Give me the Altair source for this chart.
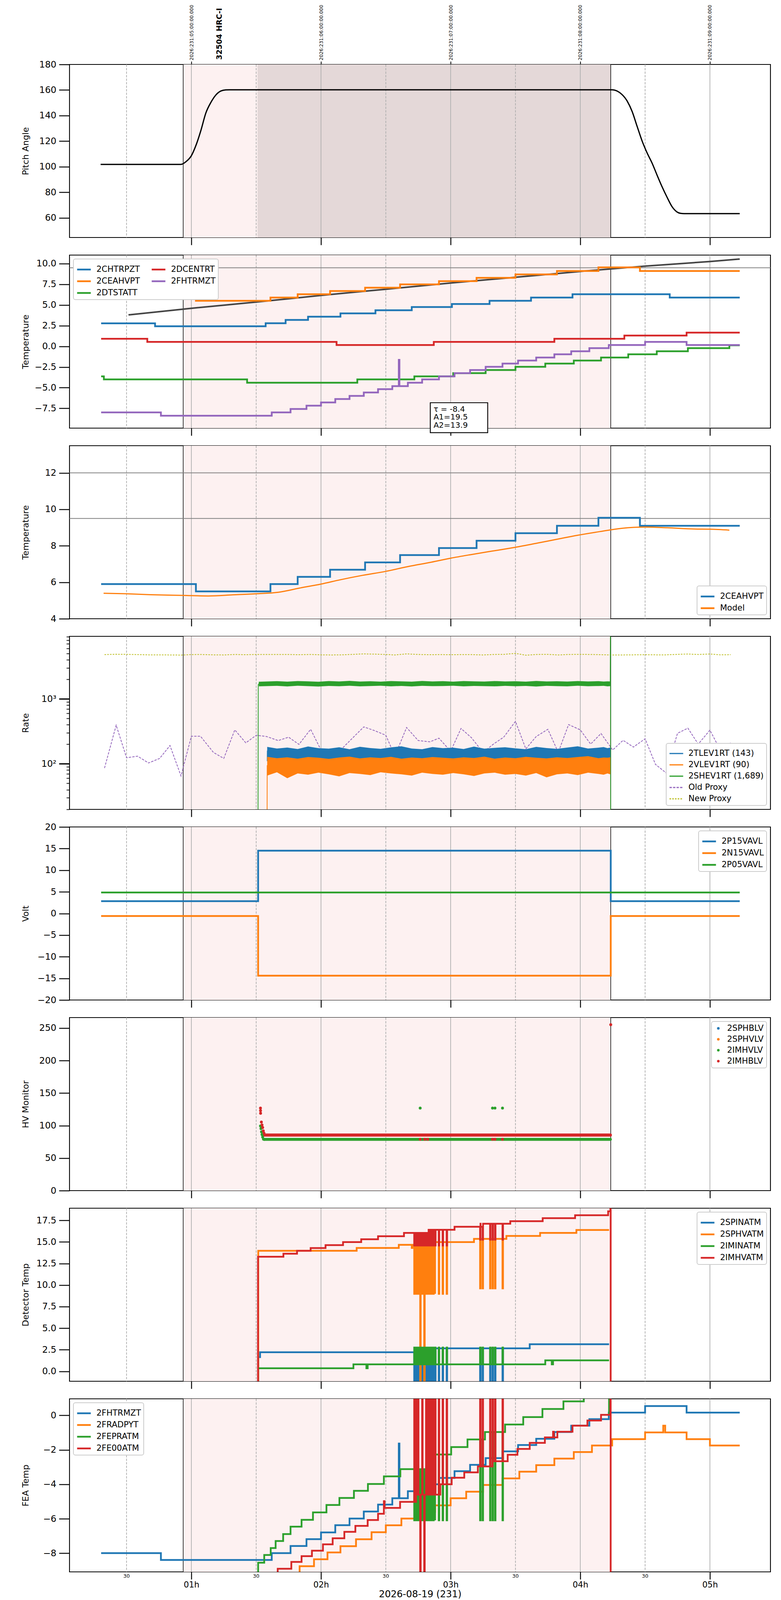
import altair as alt
import pandas as pd

# The screenshot is only ~4096 px tall, so the reference layout is kept horizontally
# and compressed vertically to fit.
WIDTH = 1795
HEIGHT = 443
SPACING = 45
X_DOMAIN = [0.060, 5.467]
FONT = "DejaVu Sans"

BLUE, ORANGE, GREEN, RED, PURPLE, OLIVE = (
    "#1f77b4", "#ff7f0e", "#2ca02c", "#d62728", "#9467bd", "#bcbd22")

# time axis (hours of 2026-08-19)
HOURS = [1, 2, 3, 4, 5]
HALF_HOURS = [0.5, 1.5, 2.5, 3.5, 4.5]
OBS_START, OBS_STOP = 0.937, 4.235
HV_ON = 1.51
OBSID_LABEL = "32504 HRC-I"
OBSID_T = 1.216

# panel 1: pitch
PITCH_T = [0.30, 0.919, 0.958, 1.0, 1.035, 1.073, 1.112, 1.15, 1.188, 1.227, 1.265, 1.296,
           4.246, 4.304, 4.362, 4.40, 4.438, 4.477, 4.515, 4.554, 4.592, 4.631, 4.669, 4.708,
           4.746, 4.773, 4.80, 5.23]
PITCH_V = [101.8, 101.8, 103.9, 108.6, 116.6, 128.2, 142.1, 150.2, 156, 159.2, 160.1, 160.2,
           160.2, 158, 151.3, 143.2, 131.7, 120.1, 110.9, 102.8, 93.5, 84.3, 76.2, 68.7,
           64.6, 63.5, 63.3, 63.3]

# panel 2: temperatures (step changes)
CHTRPZT_T = [0.304, 0.72, 1.573, 1.727, 1.90, 2.15, 2.42, 2.70, 3.01, 3.30, 3.62, 3.94, 4.69, 5.23]
CHTRPZT_V = [2.78, 2.42, 2.79, 3.19, 3.58, 3.98, 4.36, 4.75, 5.12, 5.50, 5.90, 6.30, 5.90, 5.90]
CEAHVPT_T = [0.304, 1.035, 1.61, 1.82, 2.07, 2.34, 2.61, 2.91, 3.20, 3.50, 3.82, 4.14, 4.46, 5.23]
CEAHVPT_V = [5.90, 5.50, 5.90, 6.30, 6.69, 7.09, 7.49, 7.88, 8.28, 8.69, 9.10, 9.54, 9.10, 9.10]
DTSTATT_T = [0.304, 0.325, 1.43, 2.28, 2.72, 3.02, 3.27, 3.50, 3.73, 3.95, 4.16, 4.37, 4.59,
             4.83, 5.15, 5.23]
DTSTATT_V = [-3.63, -4.0, -4.4, -4.0, -3.63, -3.24, -2.87, -2.48, -2.09, -1.72, -1.36, -0.97,
             -0.6, -0.22, 0.12, 0.12]
DCENTRT_T = [0.304, 0.66, 2.12, 2.87, 3.80, 4.34, 4.82, 5.23]
DCENTRT_V = [0.91, 0.54, 0.16, 0.54, 0.91, 1.30, 1.66, 1.66]
FHTRMZT_T = [0.304, 0.765, 1.62, 1.765, 1.888, 2.0, 2.11, 2.22, 2.33, 2.44, 2.55, 2.60, 2.605,
             2.67, 2.78, 2.91, 3.03, 3.15, 3.27, 3.40, 3.52, 3.66, 3.80, 3.93, 4.07, 4.22, 4.50,
             4.82, 5.23]
FHTRMZT_V = [-7.99, -8.39, -7.99, -7.58, -7.18, -6.79, -6.37, -5.99, -5.58, -5.18, -4.81, -1.64,
             -4.81, -4.40, -4.00, -3.63, -3.24, -2.87, -2.48, -2.09, -1.72, -1.36, -0.97, -0.60,
             -0.22, 0.16, 0.54, 0.16, 0.16]
FIT_T = [0.515, 1.0, 1.5, 2.0, 2.5, 3.0, 3.5, 4.0, 4.5, 5.0, 5.23]
FIT_V = [3.8, 4.6, 5.35, 6.15, 6.9, 7.65, 8.35, 9.05, 9.7, 10.25, 10.55]
FIT_TEXT = ["τ = -8.4", "A1=19.5", "A2=13.9"]
FIT_TEXT_Y = [-7.61, -8.57, -9.54]
FIT_BOX = [2.843, 3.286, -6.82, -10.44]

# panel 3: model
MODEL_T = [0.323, 0.496, 0.688, 0.94, 1.13, 1.32, 1.50, 1.67, 1.84, 2.0, 2.15, 2.32, 2.50,
           2.67, 2.85, 3.0, 3.15, 3.32, 3.50, 3.67, 3.82, 3.98, 4.15, 4.32, 4.50, 4.67, 4.88,
           5.0, 5.15]
MODEL_V = [5.40, 5.37, 5.32, 5.28, 5.25, 5.31, 5.37, 5.45, 5.69, 5.90, 6.14, 6.38, 6.60,
           6.86, 7.10, 7.32, 7.51, 7.71, 7.92, 8.15, 8.36, 8.58, 8.78, 8.96, 9.03, 8.99, 8.92,
           8.91, 8.86]

# panel 4: rates
PROXY_T = [0.33, 0.42, 0.50, 0.585, 0.67, 0.755, 0.835, 0.92, 1.00, 1.07, 1.17, 1.25, 1.335,
           1.42, 1.50, 1.58, 1.67, 1.75, 1.83, 1.92, 2.00, 2.08, 2.16, 2.25, 2.33, 2.41, 2.50,
           2.57, 2.66, 2.75, 2.84, 2.91, 3.00, 3.08, 3.16, 3.25, 3.33, 3.41, 3.50, 3.58, 3.66,
           3.75, 3.83, 3.91, 4.00, 4.08, 4.16, 4.25, 4.33, 4.41, 4.50, 4.58, 4.66, 4.75, 4.83,
           4.91, 5.00, 5.08, 5.16]
OLD_PROXY = [86, 393, 124, 131, 103, 121, 191, 65, 266, 266, 150, 121, 333, 210, 275, 263, 228,
             257, 199, 340, 163, 132, 170, 257, 370, 326, 275, 132, 362, 228, 218, 248, 156, 350,
             253, 150, 201, 258, 450, 170, 263, 340, 150, 402, 333, 201, 293, 163, 230, 181, 243,
             98, 73, 295, 354, 201, 330, 163, 210]
NEW_PROXY = [4795, 4855, 4835, 4795, 4754, 4754, 4735, 4715, 4795, 4815, 4754, 4735, 4815, 4775,
             4815, 4815, 4815, 4815, 4775, 4815, 4754, 4735, 4754, 4835, 4917, 4876, 4815, 4735,
             4917, 4815, 4775, 4795, 4775, 4795, 4795, 4735, 4815, 4835, 5000, 4695, 4815, 4835,
             4735, 4815, 4835, 4815, 4775, 4735, 4735, 4754, 4775, 4754, 4754, 4835, 4897, 4815,
             4897, 4754, 4775]
T_NOISE = [1.585, 1.66, 1.74, 1.82, 1.90, 1.98, 2.06, 2.14, 2.22, 2.30, 2.38, 2.46, 2.54, 2.62,
           2.70, 2.78, 2.86, 2.94, 3.02, 3.10, 3.18, 3.26, 3.34, 3.42, 3.50, 3.58, 3.66, 3.74,
           3.82, 3.90, 3.98, 4.06, 4.14, 4.18, 4.21, 4.232]
T_NOISE_GREEN = [1.52] + T_NOISE[1:]
TLEV_HI = [182, 172, 178, 169, 185, 174, 171, 180, 168, 183, 175, 170, 179, 186, 172, 168, 181,
           174, 177, 169, 184, 171, 176, 180, 173, 168, 182, 175, 170, 178, 186, 172, 177, 181,
           174, 178]
TLEV_LO = [121, 114, 118, 112, 117, 120, 113, 116, 119, 111, 117, 121, 114, 118, 112, 116, 120,
           113, 117, 115, 119, 112, 118, 114, 120, 116, 113, 119, 115, 117, 111, 118, 114, 120,
           116, 115]
VLEV_HI = [128, 122, 126, 120, 127, 124, 119, 125, 129, 121, 126, 123, 128, 120, 125, 122, 127,
           124, 121, 126, 123, 129, 120, 125, 122, 128, 124, 121, 126, 123, 127, 131, 122, 125,
           124, 126]
VLEV_LO = [66, 74, 60, 71, 68, 73, 69, 64, 72, 70, 67, 74, 71, 69, 66, 73, 70, 68, 72, 69, 65,
           71, 73, 68, 70, 66, 72, 62, 69, 71, 67, 73, 70, 68, 71, 69]
SHEV_HI = [1830, 1870, 1840, 1880, 1855, 1835, 1875, 1850, 1890, 1845, 1865, 1838, 1880, 1858,
           1842, 1885, 1850, 1868, 1840, 1875, 1855, 1845, 1880, 1850, 1862, 1838, 1885, 1850,
           1866, 1843, 1878, 1852, 1870, 1846, 1860, 1850]
SHEV_LO = [1560, 1585, 1550, 1590, 1570, 1545, 1580, 1565, 1590, 1555, 1575, 1588, 1560, 1578,
           1550, 1585, 1568, 1575, 1590, 1560, 1580, 1570, 1555, 1585, 1565, 1578, 1548, 1582,
           1570, 1560, 1588, 1565, 1575, 1585, 1560, 1570]
SHEV_EDGE_T = [1.513, 1.516, 1.52, 4.231, 4.233, 4.2345]
SHEV_EDGE_V = [1, 1650, 1700, 1700, 20000, 1]
VLEV_EDGE_T = [1.583, 1.585]
VLEV_EDGE_V = [1, 95]
TLEV_EDGE_T = [1.585, 1.586]
TLEV_EDGE_V = [110, 160]
RATE_NAMES = ["2TLEV1RT (143)", "2VLEV1RT (90)", "2SHEV1RT (1,689)", "Old Proxy", "New Proxy"]

# panel 5: voltages
VOLT_T = [0.304, 1.515, 4.235, 5.23]
P15_V = [2.84, 14.52, 2.84, 2.84]
N15_V = [-0.58, -14.38, -0.58, -0.58]
P05_T = [0.304, 5.23]
P05_V = [4.86, 4.86]

# panel 6: HV monitor
IMHVLV_T = [1.533, 1.537, 1.541, 1.545, 1.550, 1.556, 1.562, 2.765, 3.323, 3.342, 3.40]
IMHVLV_V = [99.5, 95.4, 90.4, 86.3, 82.3, 79.2, 78.8, 127, 127, 127, 127]
IMHBLV_T = [1.533, 1.5335, 1.534, 1.540, 1.545, 1.550, 1.555, 1.560, 2.765, 2.80, 2.823, 3.323,
            3.342, 3.40, 4.235]
IMHBLV_V = [127, 123, 119, 105.5, 101, 97, 92, 88.3, 79, 79, 79, 79, 79, 79, 255.3]
HV_FLAT_T = [1.562, 4.232]
IMHVLV_FLAT = [78.8, 78.8]
IMHBLV_FLAT = [85.5, 85.5]
HV_NAMES = ["2SPHBLV", "2SPHVLV", "2IMHVLV", "2IMHBLV"]

# spike times shared by panels 7 and 8
SPIKE_A = [2.719, 2.733, 2.748, 2.765, 2.78, 2.796, 2.81, 2.823, 2.838, 2.852, 2.866, 2.88,
           2.908, 2.938, 2.969]
SPIKE_B = [3.227, 3.246, 3.304, 3.323, 3.342, 3.40]

# panel 7: detector temps
SPINATM_T = [1.514, 1.516, 1.53, 2.83, 3.61, 4.222]
SPINATM_V = [-3, 1.65, 2.21, 2.67, 3.14, 3.14]
SPHVATM_T = [1.514, 1.516, 2.275, 2.60, 2.70, 2.705, 2.88, 3.18, 3.43, 3.69, 3.97, 4.222]
SPHVATM_V = [-3, 13.97, 14.3, 14.66, 14.3, 14.66, 14.98, 15.36, 15.69, 16.05, 16.38, 16.38]
SPHVATM_SPIKE_A = [8.98, 8.98, 8.98, -3, 8.98, -3, 8.98, 8.98, 8.98, 8.98, 8.98, 8.98, 8.98,
                   8.98, 8.98]
IMINATM_T = [1.516, 2.25, 2.35, 2.36, 3.73, 3.78, 3.79, 4.222]
IMINATM_V = [0.35, 0.81, 0.35, 0.81, 1.27, 0.81, 1.27, 1.27]
IMHVATM_T = [1.512, 1.514, 1.71, 1.815, 1.92, 2.035, 2.17, 2.31, 2.44, 2.64, 2.83, 3.03, 3.23,
             3.46, 3.71, 3.96, 4.215, 4.232, 4.2345, 4.236]
IMHVATM_V = [-3, 13.28, 13.63, 13.97, 14.29, 14.63, 14.98, 15.31, 15.66, 16.05, 16.41, 16.76,
             17.11, 17.4, 17.76, 18.1, 18.55, 25, -3, -3]

# panel 8: FEA temps
FRADPYT_T = [1.833, 1.835, 1.946, 2.05, 2.15, 2.27, 2.39, 2.50, 2.62, 2.75, 2.88, 3.0, 3.12,
             3.25, 3.40, 3.53, 3.66, 3.80, 3.95, 4.09, 4.246, 4.50, 4.64, 4.655, 4.82, 5.0, 5.23]
FRADPYT_V = [-9.5, -8.75, -8.35, -7.95, -7.59, -7.19, -6.78, -6.38, -5.99, -5.6, -5.22, -4.81,
             -4.43, -4.04, -3.66, -3.27, -2.89, -2.51, -2.13, -1.75, -1.38, -0.99, -0.6, -0.99,
             -1.38, -1.75, -1.75]
FEPRATM_T = [1.513, 1.515, 1.562, 1.612, 1.65, 1.708, 1.765, 1.85, 1.938, 2.042, 2.142, 2.254,
             2.362, 2.485, 2.612, 2.88, 3.004, 3.13, 3.265, 3.42, 3.56, 3.708, 3.87, 4.027,
             4.14, 4.222, 4.2245]
FEPRATM_V = [-9.5, -8.55, -8.1, -7.7, -7.29, -6.89, -6.46, -6.06, -5.63, -5.2, -4.79, -4.38,
             -3.98, -3.54, -3.12, -2.27, -1.84, -1.40, -0.97, -0.53, -0.10, 0.37, 0.81, 1.25,
             1.7, 0.05, 0.05]
FE00ATM_T = [1.664, 1.666, 1.771, 1.85, 1.93, 2.015, 2.09, 2.18, 2.265, 2.36, 2.44, 2.485, 2.49,
             2.61, 2.72, 2.92, 3.008, 3.105, 3.21, 3.323, 3.44, 3.515, 3.61, 3.727, 3.79, 3.796,
             3.823, 3.94, 4.055, 4.16, 4.22, 4.232, 4.2345, 4.236]
FE00ATM_V = [-9.5, -8.90, -8.50, -8.17, -7.85, -7.48, -7.13, -6.76, -6.41, -6.07, -5.71, -4.98,
             -5.37, -5.02, -4.6, -4.0, -3.62, -3.31, -2.96, -2.66, -2.29, -1.95, -1.6, -1.28,
             -0.95, -1.28, -0.95, -0.6, -0.3, 0.03, 0.03, 3, -12, -12]
FE00ATM_SPIKE_A = [3, 3, 3, -12, 3, -12, 3, 3, 3, 3, 3, 3, 3, 3, 3]


def with_spikes(times, values, spike_times, spike_values, width=0.004):
    if not isinstance(spike_values, list):
        spike_values = [spike_values] * len(spike_times)
    pts = list(zip(times, values))
    for s, sv in zip(spike_times, spike_values):
        level = [v for t, v in zip(times, values) if t <= s][-1]
        pts += [(s, sv), (s + width, level)]
    pts.sort()
    return [p[0] for p in pts], [p[1] for p in pts]


def series_df(series_list):
    frames = [pd.DataFrame({"t": t, "v": v, "series": name}) for name, t, v in series_list]
    return pd.concat(frames, ignore_index=True)


def x_enc(axis, field="t"):
    return alt.X(f"{field}:Q", scale=alt.Scale(domain=X_DOMAIN, nice=False, zero=False),
                 axis=axis)


def y_enc(field, domain, axis, log=False):
    scale = alt.Scale(domain=domain, nice=False, zero=False, type="log" if log else "linear")
    return alt.Y(f"{field}:Q", scale=scale, axis=axis)


def y_axis(title, values, fmt=None, **kw):
    opts = dict(title=title, values=values, tickSize=27, tickWidth=2.4, labelPadding=7,
                domain=False, grid=False, minExtent=97, maxExtent=97, titlePadding=4)
    if fmt:
        opts["format"] = fmt
    opts.update(kw)
    return alt.Axis(**opts)


def legend(orient, **kw):
    opts = dict(title=None, orient=orient, offset=10, padding=7, fillColor="white",
                strokeColor="#cccccc", cornerRadius=5, labelFontSize=21, labelLimit=0,
                symbolType="stroke", symbolSize=1225, symbolStrokeWidth=4.5, labelOffset=12,
                rowPadding=0)
    opts.update(kw)
    return alt.Legend(**opts)


BOTTOM_AXIS = alt.Axis(values=HOURS, labels=False, tickSize=19, tickWidth=2.4, domain=False,
                       grid=False, title=None)
LAST_AXIS = alt.Axis(values=HOURS, labelExpr="'0' + datum.value + 'h'", tickSize=19,
                     tickWidth=2.4, labelPadding=3, labelFontSize=21, domain=False, grid=False,
                     title="2026-08-19 (231)", titleFontSize=24, titlePadding=2,
                     labelFlush=False)
TOP_AXIS = alt.Axis(orient="top", values=HOURS,
                    labelExpr="'2026:231:0' + (datum.value + 4) + ':00:00.000'",
                    labelAngle=270, labelAlign="left", labelBaseline="middle", labelFontSize=12,
                    labelLimit=0, tickSize=8, tickWidth=2, labelPadding=3, domain=False,
                    grid=False, title=None)


def background(axis, dark=False, shared=True):
    # shared: every layer repeats the panel's x axis so that the layer axes merge
    other = axis if shared else None
    span = pd.DataFrame({"start": [OBS_START], "stop": [OBS_STOP]})
    layers = [alt.Chart(span).mark_rect(color="#fdf1f1").encode(
        x=x_enc(axis, "start"), x2="stop:Q")]
    if dark:
        hv = pd.DataFrame({"start": [HV_ON], "stop": [OBS_STOP]})
        layers.append(alt.Chart(hv).mark_rect(color="#e4d8d8").encode(
            x=x_enc(other, "start"), x2="stop:Q"))
    layers.append(alt.Chart(pd.DataFrame({"t": HOURS})).mark_rule(
        color="#b0b0b0", strokeWidth=1.8).encode(x=x_enc(other)))
    layers.append(alt.Chart(pd.DataFrame({"t": HALF_HOURS})).mark_rule(
        color="#b0b0b0", strokeWidth=1.8, strokeDash=[6, 3]).encode(x=x_enc(other)))
    layers.append(alt.Chart(pd.DataFrame({"t": [OBS_START, OBS_STOP]})).mark_rule(
        color="black", strokeWidth=1.5).encode(x=x_enc(other)))
    return layers


def step_lines(df, xa, domain, axis, names, colors, leg, width=4.5):
    return alt.Chart(df).mark_line(interpolate="step-after", strokeWidth=width, clip=True).encode(
        x=x_enc(xa),
        y=y_enc("v", domain, axis),
        color=alt.Color("series:N", scale=alt.Scale(domain=names, range=colors), legend=leg),
    )


# ---- panel 1 (top axis + bottom ticks: independent x axes)
P1_DOM = [44.6, 180]
ax1 = y_axis("Pitch Angle", [60, 80, 100, 120, 140, 160, 180], "d")
pitch = alt.Chart(pd.DataFrame({"t": PITCH_T, "v": PITCH_V})).mark_line(
    color="black", strokeWidth=3.2, interpolate="monotone").encode(
    x=x_enc(TOP_AXIS), y=y_enc("v", P1_DOM, ax1))
obsid = alt.Chart(pd.DataFrame({"t": [OBSID_T], "label": [OBSID_LABEL]})).mark_text(
    angle=270, align="left", baseline="middle", fontSize=19, fontWeight="bold", font=FONT).encode(
    x=x_enc(None), y=alt.value(-12), text="label:N")
panel1 = alt.layer(*background(BOTTOM_AXIS, dark=True, shared=False), pitch, obsid).resolve_axis(
    x="independent").properties(width=WIDTH, height=HEIGHT)

XA = BOTTOM_AXIS

# ---- panel 2
P2_DOM = [-9.89, 11.03]
ax2 = y_axis("Temperature", [-7.5, -5, -2.5, 0, 2.5, 5, 7.5, 10], ".1f")
p2_names = ["2CHTRPZT", "2CEAHVPT", "2DTSTATT", "2DCENTRT", "2FHTRMZT"]
p2_colors = [BLUE, ORANGE, GREEN, RED, PURPLE]
p2_df = series_df([
    ("2CHTRPZT", CHTRPZT_T, CHTRPZT_V), ("2CEAHVPT", CEAHVPT_T, CEAHVPT_V),
    ("2DTSTATT", DTSTATT_T, DTSTATT_V), ("2DCENTRT", DCENTRT_T, DCENTRT_V),
    ("2FHTRMZT", FHTRMZT_T, FHTRMZT_V)])
fit = alt.Chart(pd.DataFrame({"t": FIT_T, "v": FIT_V})).mark_line(
    color="#444444", strokeWidth=4, interpolate="monotone").encode(
    x=x_enc(XA), y=y_enc("v", P2_DOM, ax2))
limit2 = alt.Chart(pd.DataFrame({"v": [9.5]})).mark_rule(color="#808080", strokeWidth=2).encode(
    y=y_enc("v", P2_DOM, ax2))
steps2 = step_lines(p2_df, XA, P2_DOM, ax2, p2_names, p2_colors,
                    legend("top-left", columns=2, columnPadding=20))
box = alt.Chart(pd.DataFrame({"x1": [FIT_BOX[0]], "x2": [FIT_BOX[1]], "y1": [FIT_BOX[2]],
                              "y2": [FIT_BOX[3]]})).mark_rect(
    fill="white", stroke="black", strokeWidth=2.2).encode(
    x=x_enc(XA, "x1"), x2="x2:Q", y=y_enc("y1", P2_DOM, ax2), y2="y2:Q")
box_text = alt.Chart(pd.DataFrame({"t": [FIT_BOX[0] + 0.025] * 3, "v": FIT_TEXT_Y,
                                   "label": FIT_TEXT})).mark_text(
    align="left", baseline="middle", fontSize=20, font=FONT).encode(
    x=x_enc(XA), y=y_enc("v", P2_DOM, ax2), text="label:N")
panel2 = alt.layer(*background(XA), fit, limit2, steps2, box, box_text).properties(
    width=WIDTH, height=HEIGHT)

# ---- panel 3
P3_DOM = [4.0, 13.49]
ax3 = y_axis("Temperature", [4, 6, 8, 10, 12], "d")
limits3 = alt.Chart(pd.DataFrame({"v": [12, 9.5]})).mark_rule(
    color="#808080", strokeWidth=2).encode(y=y_enc("v", P3_DOM, ax3))
p3_df = series_df([("2CEAHVPT", CEAHVPT_T, CEAHVPT_V)])
steps3 = step_lines(p3_df, XA, P3_DOM, ax3, ["2CEAHVPT", "Model"], [BLUE, ORANGE],
                    legend("bottom-right"))
model = alt.Chart(pd.DataFrame({"t": MODEL_T, "v": MODEL_V})).mark_line(
    color=ORANGE, strokeWidth=3, interpolate="monotone").encode(
    x=x_enc(XA), y=y_enc("v", P3_DOM, ax3))
panel3 = alt.layer(*background(XA), limits3, steps3, model).properties(
    width=WIDTH, height=HEIGHT)

# ---- panel 4
P4_DOM = [19.9, 9160]
minor_vals = [20, 30, 40, 50, 60, 70, 80, 90, 100, 200, 300, 400, 500, 600, 700, 800, 900,
              1000, 2000, 3000, 4000, 5000, 6000, 7000, 8000, 9000]
major_test = "datum.value === 100 || datum.value === 1000"
ax4 = y_axis(
    "Rate", minor_vals,
    labelExpr="datum.value === 100 ? '10²' : datum.value === 1000 ? '10³' : ''",
    tickSize={"condition": {"test": major_test, "value": 27}, "value": 8},
    tickWidth={"condition": {"test": major_test, "value": 3.2}, "value": 1.8})
rate_lines_df = series_df([
    ("Old Proxy", PROXY_T, OLD_PROXY), ("New Proxy", PROXY_T, NEW_PROXY),
    ("2SHEV1RT (1,689)", SHEV_EDGE_T, SHEV_EDGE_V), ("2VLEV1RT (90)", VLEV_EDGE_T, VLEV_EDGE_V),
    ("2TLEV1RT (143)", TLEV_EDGE_T, TLEV_EDGE_V)])
rate_lines = alt.Chart(rate_lines_df).mark_line(strokeWidth=2, clip=True).encode(
    x=x_enc(XA),
    y=y_enc("v", P4_DOM, ax4, log=True),
    color=alt.Color("series:N", scale=alt.Scale(
        domain=RATE_NAMES, range=[BLUE, ORANGE, GREEN, PURPLE, OLIVE]),
        legend=legend("bottom-right", symbolStrokeWidth=3)),
    strokeDash=alt.StrokeDash("series:N", scale=alt.Scale(
        domain=RATE_NAMES, range=[[1, 0], [1, 0], [1, 0], [6, 3], [4, 3]]), legend=None),
)


def band(t, lo, hi, color):
    return alt.Chart(pd.DataFrame({"t": t, "lo": lo, "hi": hi})).mark_area(
        color=color, opacity=1, clip=True).encode(
        x=x_enc(XA), y=y_enc("lo", P4_DOM, ax4, log=True), y2="hi:Q")


panel4 = alt.layer(*background(XA), rate_lines,
                   band(T_NOISE, TLEV_LO, TLEV_HI, BLUE),
                   band(T_NOISE, VLEV_LO, VLEV_HI, ORANGE),
                   band(T_NOISE_GREEN, SHEV_LO, SHEV_HI, GREEN)).properties(
    width=WIDTH, height=HEIGHT)

# ---- panel 5
P5_DOM = [-20, 20]
ax5 = y_axis("Volt", [-20, -15, -10, -5, 0, 5, 10, 15, 20], "d")
p5_df = series_df([("2P15VAVL", VOLT_T, P15_V), ("2N15VAVL", VOLT_T, N15_V),
                   ("2P05VAVL", P05_T, P05_V)])
steps5 = step_lines(p5_df, XA, P5_DOM, ax5, ["2P15VAVL", "2N15VAVL", "2P05VAVL"],
                    [BLUE, ORANGE, GREEN], legend("top-right"))
panel5 = alt.layer(*background(XA), steps5).properties(width=WIDTH, height=HEIGHT)

# ---- panel 6
P6_DOM = [0, 266.2]
ax6 = y_axis("HV Monitor", [0, 50, 100, 150, 200, 250], "d")
flat_green = alt.Chart(pd.DataFrame({"t": HV_FLAT_T, "v": IMHVLV_FLAT})).mark_line(
    color=GREEN, strokeWidth=7.5, strokeCap="round").encode(
    x=x_enc(XA), y=y_enc("v", P6_DOM, ax6))
flat_red = alt.Chart(pd.DataFrame({"t": HV_FLAT_T, "v": IMHBLV_FLAT})).mark_line(
    color=RED, strokeWidth=8, strokeCap="round").encode(x=x_enc(XA), y=y_enc("v", P6_DOM, ax6))
hv_df = series_df([("2IMHVLV", IMHVLV_T, IMHVLV_V), ("2IMHBLV", IMHBLV_T, IMHBLV_V)])
hv_points = alt.Chart(hv_df).mark_circle(size=55, opacity=1).encode(
    x=x_enc(XA), y=y_enc("v", P6_DOM, ax6),
    color=alt.Color("series:N", scale=alt.Scale(domain=HV_NAMES, range=[BLUE, ORANGE, GREEN, RED]),
                    legend=legend("top-right", symbolType="circle", symbolSize=45, rowPadding=6)),
    order=alt.Order("series:N", sort="descending"))
panel6 = alt.layer(*background(XA), flat_green, flat_red, hv_points).properties(
    width=WIDTH, height=HEIGHT)

# ---- panel 7
P7_DOM = [-1.15, 18.91]
ax7 = y_axis("Detector Temp", [0, 2.5, 5, 7.5, 10, 12.5, 15, 17.5], ".1f")
spin_t, spin_v = with_spikes(SPINATM_T, SPINATM_V, SPIKE_A + SPIKE_B, -3)
sphv_t, sphv_v = with_spikes(SPHVATM_T, SPHVATM_V, SPIKE_A, SPHVATM_SPIKE_A)
sphv_t, sphv_v = with_spikes(sphv_t, sphv_v, SPIKE_B, 9.62)
imin_t, imin_v = with_spikes(IMINATM_T, IMINATM_V, SPIKE_A + SPIKE_B, 2.75)
imhv_t, imhv_v = with_spikes(IMHVATM_T, IMHVATM_V, SPIKE_A, 14.58)
imhv_t, imhv_v = with_spikes(imhv_t, imhv_v, SPIKE_B, 15.27)
p7_df = series_df([("2SPINATM", spin_t, spin_v), ("2SPHVATM", sphv_t, sphv_v),
                   ("2IMINATM", imin_t, imin_v), ("2IMHVATM", imhv_t, imhv_v)])
steps7 = step_lines(p7_df, XA, P7_DOM, ax7,
                    ["2SPINATM", "2SPHVATM", "2IMINATM", "2IMHVATM"], [BLUE, ORANGE, GREEN, RED],
                    legend("top-right"))
panel7 = alt.layer(*background(XA), steps7).properties(width=WIDTH, height=HEIGHT)

# ---- panel 8
XL = LAST_AXIS
P8_DOM = [-9.08, 0.957]
ax8 = y_axis("FEA Temp", [-8, -6, -4, -2, 0], "d")
fep_t, fep_v = with_spikes(FEPRATM_T, FEPRATM_V, SPIKE_A + SPIKE_B, -6.09)
fe00_t, fe00_v = with_spikes(FE00ATM_T, FE00ATM_V, SPIKE_A, FE00ATM_SPIKE_A)
fe00_t, fe00_v = with_spikes(fe00_t, fe00_v, SPIKE_B, 3)
p8_df = series_df([("2FHTRMZT", FHTRMZT_T, FHTRMZT_V), ("2FRADPYT", FRADPYT_T, FRADPYT_V),
                   ("2FEPRATM", fep_t, fep_v), ("2FE00ATM", fe00_t, fe00_v)])
steps8 = step_lines(p8_df, XL, P8_DOM, ax8,
                    ["2FHTRMZT", "2FRADPYT", "2FEPRATM", "2FE00ATM"], [BLUE, ORANGE, GREEN, RED],
                    legend("top-left"))
half_labels = alt.Chart(pd.DataFrame({"t": HALF_HOURS})).mark_text(
    text="30", fontSize=13, font=FONT, baseline="middle").encode(
    x=x_enc(XL), y=alt.value(HEIGHT + 11))
panel8 = alt.layer(*background(XL), steps8, half_labels).properties(
    width=WIDTH, height=HEIGHT)

chart = alt.vconcat(panel1, panel2, panel3, panel4, panel5, panel6, panel7, panel8,
                    spacing=SPACING, bounds="flush").resolve_scale(
    color="independent", strokeDash="independent").resolve_legend(
    color="independent", strokeDash="independent").properties(
    padding={"left": 44, "top": 2, "right": 0, "bottom": 0}
).configure_view(stroke="black", strokeWidth=2.2).configure_axis(
    labelFont=FONT, titleFont=FONT, labelFontSize=23, titleFontSize=22,
    titleFontWeight="normal", labelColor="black", titleColor="black", tickColor="black"
).configure_legend(labelFont=FONT, strokeWidth=2, labelColor="black")

chart.save("out.html", embed_options={"renderer": "svg", "actions": False})
